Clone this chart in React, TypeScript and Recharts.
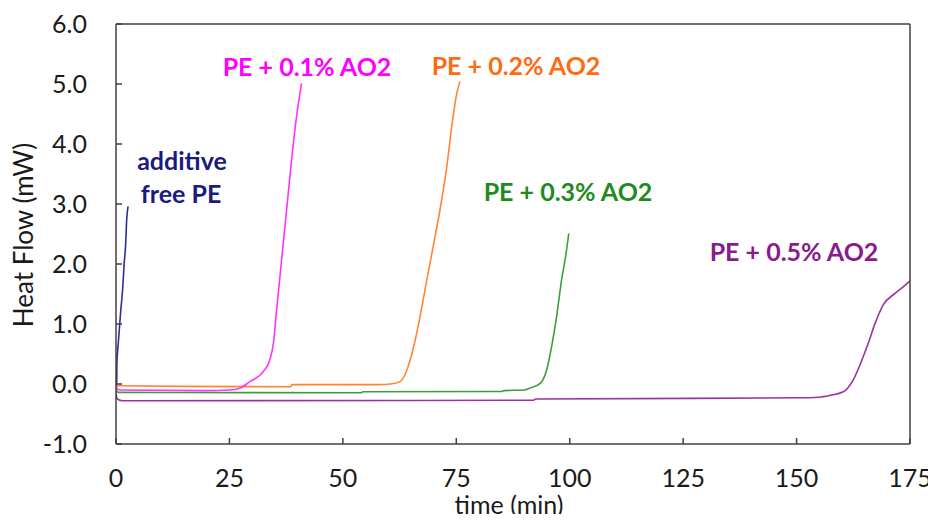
import React from 'react';
import { LineChart, Line, XAxis, YAxis, ReferenceLine } from 'recharts';

// time (min) and heat flow (mW) for each sample
const freeT = [0, 0.15, 0.2, 0.5, 1.0, 1.5, 1.8, 2.1, 2.35, 2.65];
const freeHF = [-0.02, 0.02, 0.35, 0.68, 1.18, 1.62, 2.01, 2.29, 2.73, 2.96];

const ao01T = [0, 0.3, 1, 20, 25, 27.3, 29.5, 32.5, 33.9, 34.7, 35.4, 36.5, 37.6, 38.7, 39.8, 40.9];
const ao01HF = [0.0, -0.08, -0.1, -0.11, -0.1, -0.07, 0.04, 0.21, 0.4, 0.68, 1.23, 2.07, 2.9, 3.73, 4.46, 5.01];

const ao02T = [0, 0.5, 15, 38.5, 38.8, 58, 60.5, 62.6, 64.1, 65.6, 67, 68.5, 69.9, 71.4, 72.9, 74, 75.1, 75.8];
const ao02HF = [0.0, -0.03, -0.04, -0.045, -0.01, -0.01, 0.0, 0.04, 0.23, 0.62, 1.12, 1.73, 2.29, 2.9, 3.62, 4.29, 4.84, 5.04];

const ao03T = [0, 0.5, 54, 54.5, 85, 85.5, 90, 91.2, 93.5, 94.9, 96, 97.1, 98.2, 99.2, 99.8];
const ao03HF = [-0.1, -0.14, -0.145, -0.13, -0.125, -0.11, -0.1, -0.07, 0.01, 0.23, 0.62, 1.12, 1.73, 2.18, 2.51];

const ao05T = [0, 0.3, 1.5, 92, 92.5, 150, 155, 157.4, 160.3, 162.5, 164.4, 165.8, 167.3, 169.1, 171.7, 173.5, 175];
const ao05HF = [-0.15, -0.25, -0.28, -0.27, -0.25, -0.23, -0.22, -0.19, -0.13, 0.07, 0.4, 0.68, 1.01, 1.32, 1.51, 1.62, 1.72];

const xTicks = [0, 25, 50, 75, 100, 125, 150, 175];
const yTicks = [-1, 0, 1, 2, 3, 4, 5, 6];

const toPts = (t: number[], v: number[]) => t.map((x, i) => ({ t: x, v: v[i] }));

const axisColor = '#404040';
const textColor = '#1a1a1a';

const labelStyle = (left: number, top: number, color: string): React.CSSProperties => ({
  position: 'absolute',
  left,
  top,
  transform: 'translate(-50%, -50%)',
  color,
  fontFamily: 'Lato, sans-serif',
  fontWeight: 700,
  fontSize: 25,
  lineHeight: 1,
  whiteSpace: 'nowrap',
});

export default function App() {
  return (
    <div style={{ position: 'relative', width: 936, height: 522, margin: -8, background: '#fff', overflow: 'hidden' }}>
      <LineChart width={936} height={522} margin={{ top: 24, right: 25, left: 0, bottom: 0 }}>
        <XAxis
          type="number"
          dataKey="t"
          domain={[0, 175]}
          ticks={xTicks}
          interval={0}
          allowDataOverflow
          height={78}
          tickSize={-6}
          tickMargin={31}
          stroke={axisColor}
          strokeWidth={1.5}
          tick={{ fill: textColor, fontSize: 25, fontFamily: 'Lato, sans-serif' }}
        />
        <YAxis
          yAxisId="l"
          type="number"
          domain={[-1, 6]}
          ticks={yTicks}
          interval={0}
          width={116}
          tickSize={-6}
          tickMargin={35}
          stroke={axisColor}
          strokeWidth={1.5}
          tickFormatter={(v: number) => v.toFixed(1)}
          tick={{ fill: textColor, fontSize: 25, fontFamily: 'Lato, sans-serif' }}
        />
        <YAxis
          yAxisId="r"
          orientation="right"
          type="number"
          domain={[-1, 6]}
          ticks={yTicks}
          interval={0}
          width={1}
          tickSize={-6}
          stroke={axisColor}
          strokeWidth={1.5}
          tickFormatter={() => ''}
        />
        <ReferenceLine yAxisId="l" y={6} stroke={axisColor} strokeWidth={1.5} />
        <Line yAxisId="l" type="monotone" data={toPts(ao05T, ao05HF)} dataKey="v" stroke="#9933A0" strokeWidth={1.6} dot={false} isAnimationActive={false} />
        <Line yAxisId="l" type="monotone" data={toPts(ao03T, ao03HF)} dataKey="v" stroke="#3A9E3A" strokeWidth={1.6} dot={false} isAnimationActive={false} />
        <Line yAxisId="l" type="monotone" data={toPts(ao02T, ao02HF)} dataKey="v" stroke="#FF8533" strokeWidth={1.6} dot={false} isAnimationActive={false} />
        <Line yAxisId="l" type="monotone" data={toPts(ao01T, ao01HF)} dataKey="v" stroke="#FF33FF" strokeWidth={1.6} dot={false} isAnimationActive={false} />
        <Line yAxisId="l" type="monotone" data={toPts(freeT, freeHF)} dataKey="v" stroke="#2E2E99" strokeWidth={1.6} dot={false} isAnimationActive={false} />
      </LineChart>

      <div style={labelStyle(182, 160, '#1A1A80')}>additive</div>
      <div style={labelStyle(181, 193, '#1A1A80')}>free PE</div>
      <div style={labelStyle(307, 66, '#FF00FF')}>PE + 0.1% AO2</div>
      <div style={labelStyle(516, 65, '#FF6A13')}>PE + 0.2% AO2</div>
      <div style={labelStyle(568, 191, '#1E8B1E')}>PE + 0.3% AO2</div>
      <div style={labelStyle(794, 251, '#8B1A8B')}>PE + 0.5% AO2</div>

      <div
        style={{
          position: 'absolute',
          left: 23,
          top: 235,
          transform: 'translate(-50%, -50%) rotate(-90deg)',
          color: textColor,
          fontFamily: 'Lato, sans-serif',
          fontSize: 26,
          lineHeight: 1,
          whiteSpace: 'nowrap',
        }}
      >
        Heat Flow (mW)
      </div>
      <div
        style={{
          position: 'absolute',
          left: 509,
          top: 504,
          transform: 'translate(-50%, -50%)',
          color: textColor,
          fontFamily: 'Lato, sans-serif',
          fontSize: 25,
          lineHeight: 1.2,
          whiteSpace: 'nowrap',
        }}
      >
        time (min)
      </div>
    </div>
  );
}
